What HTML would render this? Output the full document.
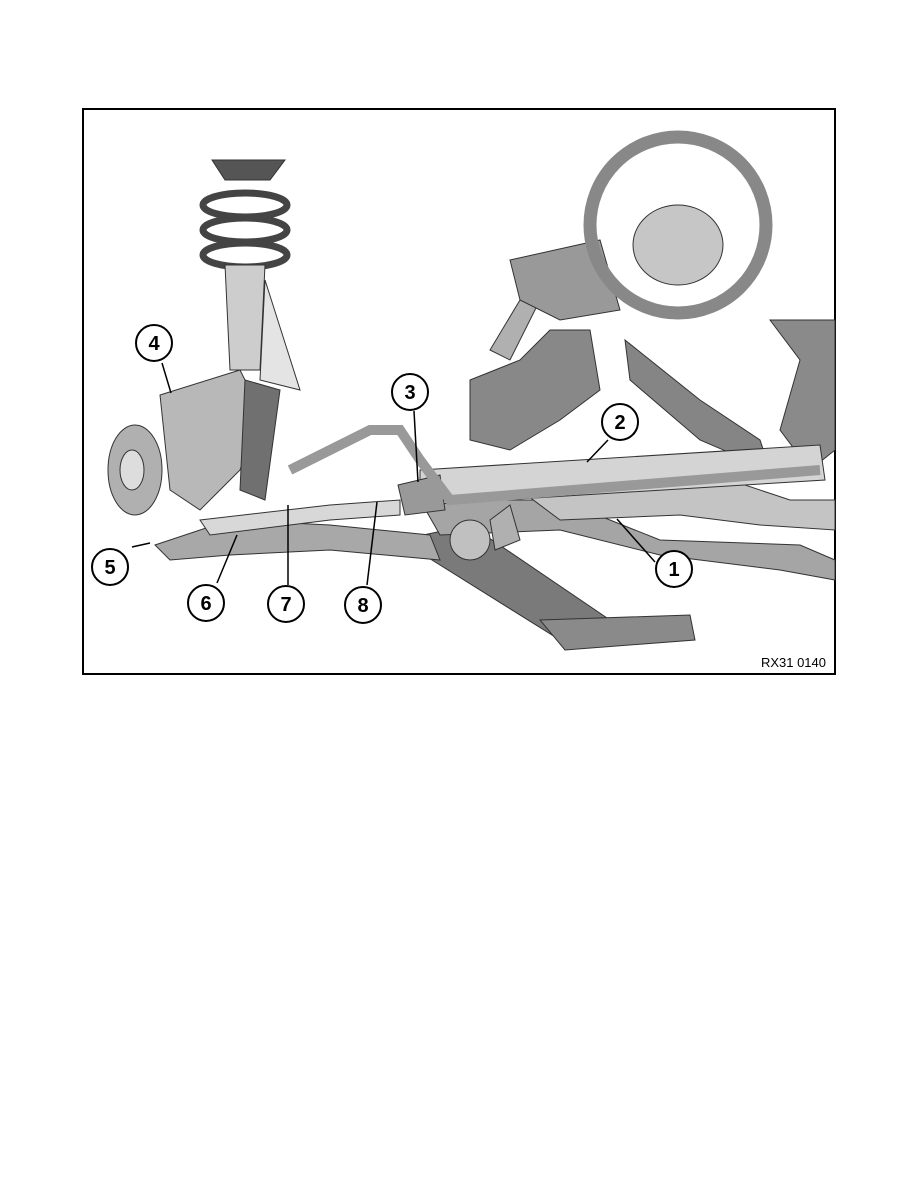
<!DOCTYPE html>
<html><head><style>
body{margin:0;background:#fff;width:918px;height:1188px;overflow:hidden}
svg{position:absolute;left:0;top:0}
</style></head><body>
<svg width="918" height="1188" viewBox="0 0 918 1188" font-family="Liberation Sans, sans-serif">
<rect x="83" y="109" width="752" height="565" fill="#fff" stroke="#000" stroke-width="2"/>
<g stroke="#333" stroke-width="1">
<path d="M400 540 L560 640 L610 620 L470 525 Z" fill="#7a7a7a"/>
<path d="M540 620 L690 615 L695 640 L565 650 Z" fill="#8a8a8a"/>
<path d="M420 500 L560 500 L660 540 L800 545 L835 560 L835 580 L780 570 L660 555 L560 530 L440 535 Z" fill="#a5a5a5"/>
<path d="M520 490 L700 470 L790 500 L835 500 L835 530 L760 525 L680 515 L560 520 Z" fill="#c4c4c4"/>
<path d="M770 320 L835 320 L835 450 L810 470 L780 430 L800 360 Z" fill="#8a8a8a"/>
<path d="M625 340 L700 400 L760 440 L770 470 L700 440 L630 380 Z" fill="#858585"/>
<path d="M155 545 L230 520 L330 525 L430 535 L440 560 L330 550 L230 555 L170 560 Z" fill="#a8a8a8"/>
<path d="M200 520 L330 505 L400 500 L400 515 L330 520 L210 535 Z" fill="#d8d8d8"/>
<path d="M420 470 L820 445 L825 480 L420 505 Z" fill="#d4d4d4"/>
<path d="M398 485 L440 475 L445 510 L405 515 Z" fill="#999"/>
<path d="M290 470 L370 430 L400 430 L420 460 L450 500 L820 470" fill="none" stroke="#999" stroke-width="10"/>
<path d="M470 380 L520 360 L550 330 L590 330 L600 390 L560 420 L510 450 L470 440 Z" fill="#888"/>
<path d="M490 350 L520 300 L540 300 L510 360 Z" fill="#b0b0b0"/>
<path d="M510 260 L600 240 L620 310 L560 320 L520 300 Z" fill="#999"/>
<circle cx="678" cy="225" r="88" fill="none" stroke="#888" stroke-width="13"/>
<ellipse cx="678" cy="245" rx="45" ry="40" fill="#c6c6c6"/>
<path d="M212 160 L285 160 L270 180 L225 180 Z" fill="#555"/>
<ellipse cx="245" cy="205" rx="42" ry="12" fill="none" stroke="#444" stroke-width="7"/>
<ellipse cx="245" cy="230" rx="42" ry="12" fill="none" stroke="#444" stroke-width="7"/>
<ellipse cx="245" cy="255" rx="42" ry="12" fill="none" stroke="#444" stroke-width="7"/>
<path d="M225 265 L265 265 L260 370 L230 370 Z" fill="#cdcdcd"/>
<path d="M265 280 L300 390 L260 380 Z" fill="#e4e4e4"/>
<path d="M160 395 L240 370 L260 410 L240 470 L200 510 L170 490 Z" fill="#b8b8b8"/>
<ellipse cx="135" cy="470" rx="27" ry="45" fill="#b0b0b0"/>
<ellipse cx="132" cy="470" rx="12" ry="20" fill="#ddd"/>
<path d="M245 380 L280 390 L265 500 L240 490 Z" fill="#707070"/>
<path d="M490 520 L510 505 L520 540 L495 550 Z" fill="#b0b0b0"/>
<circle cx="470" cy="540" r="20" fill="#c0c0c0"/>
</g>
<g stroke="#000" stroke-width="1.5" fill="none">
<line x1="162" y1="363" x2="171" y2="393"/>
<line x1="132" y1="547" x2="150" y2="543"/>
<line x1="217" y1="583" x2="237" y2="535"/>
<line x1="288" y1="585" x2="288" y2="505"/>
<line x1="367" y1="585" x2="377" y2="502"/>
<line x1="414" y1="411" x2="418" y2="482"/>
<line x1="608" y1="440" x2="587" y2="462"/>
<line x1="655" y1="562" x2="617" y2="519"/>
</g>
<g fill="#fff" stroke="#000" stroke-width="2">
<circle cx="154" cy="343" r="18"/><circle cx="410" cy="392" r="18"/>
<circle cx="620" cy="422" r="18"/><circle cx="674" cy="569" r="18"/>
<circle cx="110" cy="567" r="18"/><circle cx="206" cy="603" r="18"/>
<circle cx="286" cy="604" r="18"/><circle cx="363" cy="605" r="18"/>
</g>
<g font-size="20" font-weight="bold" text-anchor="middle">
<text x="154" y="350">4</text><text x="410" y="399">3</text>
<text x="620" y="429">2</text><text x="674" y="576">1</text>
<text x="110" y="574">5</text><text x="206" y="610">6</text>
<text x="286" y="611">7</text><text x="363" y="612">8</text>
</g>
<text x="826" y="667" font-size="13" text-anchor="end">RX31 0140</text>
</svg>
</body></html>
